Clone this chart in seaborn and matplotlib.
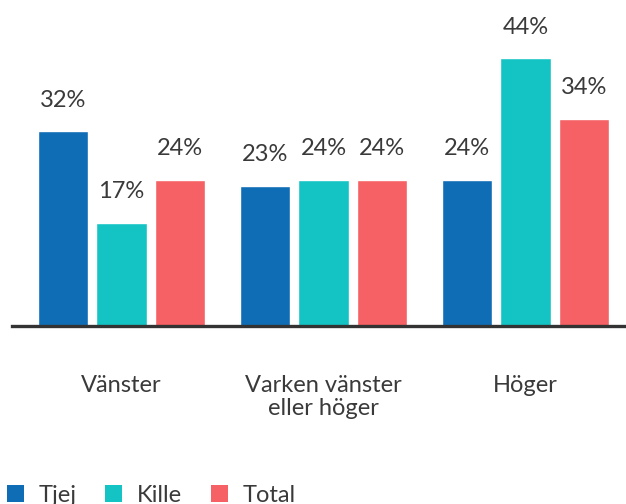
import matplotlib
matplotlib.use("Agg")
import matplotlib.pyplot as plt
import seaborn as sns
import pandas as pd
from matplotlib.patches import Patch

categories = ["Vänster", "Varken vänster\neller höger", "Höger"]
series = ["Tjej", "Kille", "Total"]
tjej = [32, 23, 24]
kille = [17, 24, 44]
total = [24, 24, 34]
colors = ["#0F6DB5", "#14C4C4", "#F56164"]

rows = []
for name, vals in zip(series, [tjej, kille, total]):
    for c, v in zip(categories, vals):
        rows.append({"cat": c, "serie": name, "val": v})
df = pd.DataFrame(rows)

sns.set_theme(style="white")
plt.rcParams["font.family"] = ["Lato", "DejaVu Sans"]
txt = "#3a3a3a"
fw = "normal"
fs = 17

fig = plt.figure(figsize=(6.26, 5.04), dpi=100)
ax = fig.add_axes([12/626, 1 - 326/504, 1 - 12/626, 304/504])
sns.barplot(data=df, x="cat", y="val", hue="serie", palette=colors,
            width=0.87, gap=0.145, ax=ax, legend=False, saturation=1)
ax.set_ylim(0, 50)
ax.set_xlim(-0.542, 2.4975)
for sp in ["top", "right", "left"]:
    ax.spines[sp].set_visible(False)
ax.spines["bottom"].set_color("#333333")
ax.spines["bottom"].set_linewidth(2.4)
ax.set_yticks([])
ax.set_xlabel("")
ax.set_ylabel("")
ax.tick_params(axis="x", length=0, pad=35, labelsize=fs, labelcolor=txt)
for lab in ax.get_xticklabels():
    lab.set_fontweight(fw)
    lab.set_linespacing(1.15)
for cont in ax.containers:
    ax.bar_label(cont, fmt="%d%%", padding=15, fontsize=fs, color=txt,
                 fontweight=fw)

handles = [Patch(facecolor=c, edgecolor="none") for c in colors]
leg = fig.legend(handles, series, loc="lower left", bbox_to_anchor=(7/626, -0.004),
                 ncol=3, frameon=False, fontsize=fs, handlelength=0.72,
                 handleheight=0.72, handletextpad=0.62, columnspacing=1.22,
                 borderpad=0, borderaxespad=0)
for t in leg.get_texts():
    t.set_color(txt)
    t.set_fontweight(fw)

fig.savefig("out.png", dpi=100)
